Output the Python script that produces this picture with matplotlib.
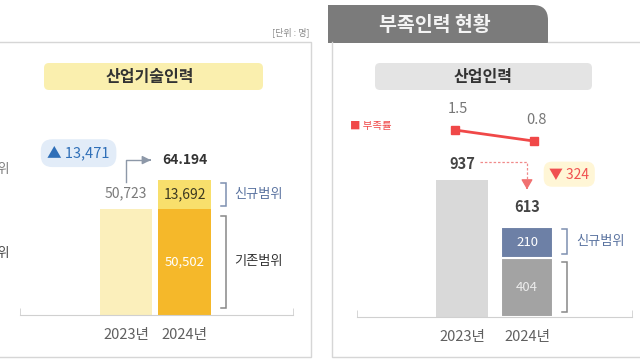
import numpy as np
import matplotlib
matplotlib.use("Agg")
import matplotlib.pyplot as plt
from matplotlib.patches import FancyBboxPatch, PathPatch
from matplotlib.path import Path

plt.rcParams['font.family'] = ['Noto Sans CJK KR', 'DejaVu Sans']

# data
years = ['2023년', '2024년']
tech_total = [50723, 64194]
tech_total_labels = ['50,723', '64.194']
tech_exist_2024 = 50502
tech_new_2024 = 13692
tech_change = 13471

short_total = [937, 613]
short_exist_2024 = 404
short_new_2024 = 210
short_change = 324
short_rate = [1.5, 0.8]

fig = plt.figure(figsize=(6.4, 3.6), dpi=100)

# background layer in pixel coordinates
bg = fig.add_axes([0, 0, 1, 1], zorder=0)
bg.set_xlim(0, 640)
bg.set_ylim(360, 0)
bg.axis('off')

border = '#d6d6d6'
# left panel frame
bg.plot([0, 311, 311, 0], [42, 42, 357, 357], color=border, lw=1)
# right panel frame
bg.plot([548, 640], [42, 42], color=border, lw=1)
bg.plot([332, 332, 640], [42, 357, 357], color=border, lw=1)

# tab
verts = [(328, 43), (328, 5), (533, 5), (548, 5), (548, 20), (548, 43), (328, 43)]
codes = [Path.MOVETO, Path.LINETO, Path.LINETO, Path.CURVE3, Path.CURVE3, Path.LINETO, Path.CLOSEPOLY]
bg.add_patch(PathPatch(Path(verts, codes), facecolor='#7b7b7b', edgecolor='none'))
bg.text(435, 25, '부족인력 현황', color='#f4f4f4', fontsize=14, fontweight='bold',
        ha='center', va='center')

bg.text(309, 32, '[단위 : 명]', color='#8a8a8a', fontsize=6.5, ha='right', va='center')

# title boxes
bg.add_patch(FancyBboxPatch((47, 66), 213, 21, boxstyle='round,pad=3,rounding_size=5',
                            facecolor='#faefae', edgecolor='none'))
bg.text(150, 77, '산업기술인력', color='#333333', fontsize=11.5, fontweight='bold',
        ha='center', va='center')
bg.add_patch(FancyBboxPatch((378, 66), 211, 21, boxstyle='round,pad=3,rounding_size=5',
                            facecolor='#e4e4e4', edgecolor='none'))
bg.text(483, 77, '산업인력', color='#333333', fontsize=11.5, fontweight='bold',
        ha='center', va='center')

# cut-off labels of the previous chart on the left edge
bg.text(10, 170, '신규범위', color='#7a7a7a', fontsize=9.5, ha='right', va='center')
bg.text(10, 253, '기존범위', color='#444444', fontsize=9.5, ha='right', va='center')

bg.text(350, 126, '■ 부족률', color='#f04848', fontsize=7.5, ha='left', va='center')


def style_axis(ax, xlim, ylim):
    ax.set_xlim(*xlim)
    ax.set_ylim(*ylim)
    ax.patch.set_alpha(0)
    for s in ['left', 'right', 'top']:
        ax.spines[s].set_visible(False)
    ax.spines['bottom'].set_color('#d0d0d0')
    ax.set_yticks([])
    ax.set_xticks([0, 1])
    ax.set_xticklabels(years, fontsize=10.5, color='#606060')
    ax.tick_params(axis='x', length=0, pad=9)
    ax.set_xticks(list(xlim), minor=True)
    ax.tick_params(axis='x', which='minor', length=5, color='#d0d0d0', direction='in')


def bracket(ax, x, y0, y1, color, label=None, lcolor=None, dx=0.09):
    ax.plot([x - dx, x, x, x - dx], [y0, y0, y1, y1], color=color, lw=1.1,
            clip_on=False, solid_joinstyle='miter')
    if label:
        ax.text(x + 0.13, (y0 + y1) / 2, label, color=lcolor, fontsize=9.5,
                ha='left', va='center')


# left chart
ax1 = fig.add_axes([20 / 640, 1 - 315 / 360, 273 / 640, 220 / 360], zorder=2)
style_axis(ax1, (-1.81, 2.85), (0, 104800))
x = np.arange(len(years))
ax1.bar(x[0], tech_total[0], width=0.9, color='#fbefbb')
ax1.bar(x[1], tech_exist_2024, width=0.9, color='#f5b82a')
ax1.bar(x[1], tech_new_2024, bottom=tech_exist_2024, width=0.9, color='#f8df6c')

ax1.text(x[0], tech_total[0] + 4000, tech_total_labels[0], color='#7a7a7a', fontsize=10,
         ha='center', va='bottom')
ax1.text(x[1], tech_exist_2024 + tech_new_2024 / 2, f'{tech_new_2024:,}', color='#3d3a22',
         fontsize=10, ha='center', va='center')
ax1.text(x[1], tech_exist_2024 / 2, f'{tech_exist_2024:,}', color='white',
         fontsize=9.5, ha='center', va='center')
top_y = tech_total[1] + 9600
ax1.text(x[1], top_y, tech_total_labels[1], color='#333333', fontsize=10,
         fontweight='bold', ha='center', va='center')
ax1.plot([x[0], x[0], x[0] + 0.38], [tech_total[0] + 12500, top_y, top_y],
         color='#8d98a8', lw=1, clip_on=False)
ax1.annotate('', xy=(x[0] + 0.47, top_y), xytext=(x[0] + 0.36, top_y),
             arrowprops=dict(arrowstyle='-|>,head_length=0.5,head_width=0.25',
                             color='#8d98a8', lw=1))
ax1.text(x[0] - 0.81, top_y + 3300, f'▲ {tech_change:,}', color='#2f6fb8', fontsize=10.5,
         ha='center', va='center',
         bbox=dict(boxstyle='round,pad=0.45,rounding_size=0.8', facecolor='#e2ecf8',
                   edgecolor='none'))
bracket(ax1, x[1] + 0.71, tech_exist_2024 + 1500, tech_total[1] - 1500, '#7d8fb0',
        '신규범위', '#5a73a0')
bracket(ax1, x[1] + 0.71, 3500, tech_exist_2024 - 3500, '#888888',
        '기존범위', '#333333')

# right chart
ax2 = fig.add_axes([357 / 640, 1 - 317 / 360, 275 / 640, 220 / 360], zorder=2)
style_axis(ax2, (-1.615, 2.615), (0, 1505))
ax2.bar(x[0], short_total[0], width=0.8, color='#d9d9d9')
ax2.bar(x[1], short_exist_2024, width=0.8, color='#a3a3a3', edgecolor='white', lw=1.5)
ax2.bar(x[1], short_new_2024, bottom=short_exist_2024, width=0.8, color='#6d80a6',
        edgecolor='white', lw=1.5)
ax2.text(x[1], short_exist_2024 / 2, f'{short_exist_2024}', color='#ececec', fontsize=9.5,
         ha='center', va='center')
ax2.text(x[1], short_exist_2024 + short_new_2024 / 2, f'{short_new_2024}', color='white',
         fontsize=9.5, ha='center', va='center')

lab_y = short_total[0] + 110
ax2.text(x[0], lab_y, f'{short_total[0]}', color='#444444', fontsize=10.5, fontweight='bold',
         ha='center', va='center')
ax2.text(x[1], short_total[1] + 140, f'{short_total[1]}', color='#444444', fontsize=10.5,
         fontweight='bold', ha='center', va='center')
ax2.plot([x[0] + 0.28, x[1], x[1]], [lab_y + 10, lab_y + 10, lab_y - 150],
         color='#f08a8a', lw=0.9, ls=(0, (2, 1.5)))
ax2.annotate('', xy=(x[1], short_total[1] + 260), xytext=(x[1], lab_y - 140),
             arrowprops=dict(arrowstyle='-|>,head_length=0.6,head_width=0.35',
                             color='#f07070', lw=0.9))
ax2.text(x[1] + 0.65, lab_y - 70, f'▼ {short_change}', color='#f05050', fontsize=10,
         ha='center', va='center',
         bbox=dict(boxstyle='round,pad=0.4,rounding_size=0.6', facecolor='#fff6d6',
                   edgecolor='none'))
bracket(ax2, x[1] + 0.62, short_exist_2024 + 25, short_exist_2024 + short_new_2024 - 10,
        '#7d8fb0', '신규범위', '#5a73a0', dx=0.08)
bracket(ax2, x[1] + 0.62, 35, short_exist_2024 - 25, '#888888', dx=0.08)

# shortage rate line
ax3 = ax2.twinx()
ax3.set_ylim(-10.4, 3.6)
ax3.axis('off')
ax3.patch.set_alpha(0)
rate_x = x + np.array([-0.11, 0.1])
ax3.plot(rate_x, short_rate, color='#f04848', lw=2, marker='s', markersize=6)
for xi, v in zip(rate_x, short_rate):
    ax3.annotate(f'{v}', (xi, v), xytext=(2, 15), textcoords='offset points',
                 color='#777777', fontsize=10.5, ha='center', va='center')

fig.savefig('out.png', dpi=100)
